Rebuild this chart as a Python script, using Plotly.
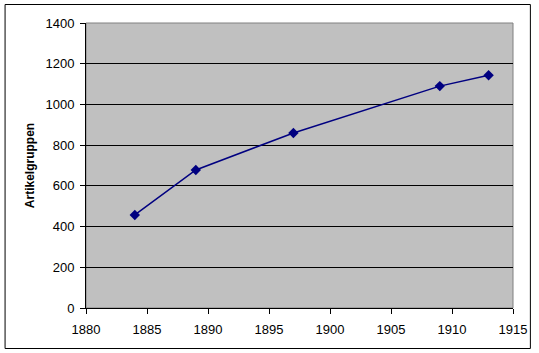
import plotly.graph_objects as go

years = [1884, 1889, 1897, 1909, 1913]
artikelgruppen = [457, 678, 860, 1090, 1143]
y_title = "Artikelgruppen"

W, H = 539, 353
L, R, T, B = 86, 23, 23, 45
pw, ph = W - L - R, H - T - B

def px2fx(px):
    return (px - L) / pw

def py2fy(py):
    return (H - B - py) / ph

fig = go.Figure()
fig.add_trace(go.Scatter(
    x=years, y=artikelgruppen, mode="lines+markers",
    line=dict(color="#000080", width=1.5),
    marker=dict(symbol="diamond", size=8, color="#000080"),
    showlegend=False,
))

font = dict(family="Liberation Sans, Arial, sans-serif", size=13, color="black")
tfont = dict(family="Liberation Sans, Arial, sans-serif", size=12, color="black")
fig.update_layout(
    width=W, height=H,
    margin=dict(l=L, r=R, t=T, b=B),
    paper_bgcolor="white", plot_bgcolor="#C0C0C0",
    font=font,
    xaxis=dict(range=[1880, 1915], dtick=5, tick0=1880, showgrid=False, zeroline=False,
               showline=True, linecolor="black", linewidth=1,
               ticks="outside", ticklen=5, tickcolor="black", tickfont=font,
               ticklabelstandoff=4),
    yaxis=dict(range=[0, 1400], dtick=200, showgrid=True, gridcolor="black", gridwidth=1,
               zeroline=False, showline=True, linecolor="black", linewidth=1,
               ticks="outside", ticklen=5, tickcolor="black", tickfont=font,
               ticklabelstandoff=3,
               title=dict(text="<b>" + y_title + "</b>", font=tfont, standoff=8)),
    shapes=[
        dict(type="rect", xref="paper", yref="paper", x0=0, x1=1, y0=0, y1=1,
             line=dict(color="#808080", width=1), layer="below"),
        dict(type="rect", xref="paper", yref="paper",
             x0=px2fx(4.5), x1=px2fx(533.5), y0=py2fy(348.5), y1=py2fy(4.5),
             line=dict(color="black", width=1)),
    ],
)
fig.write_html("out.html")
